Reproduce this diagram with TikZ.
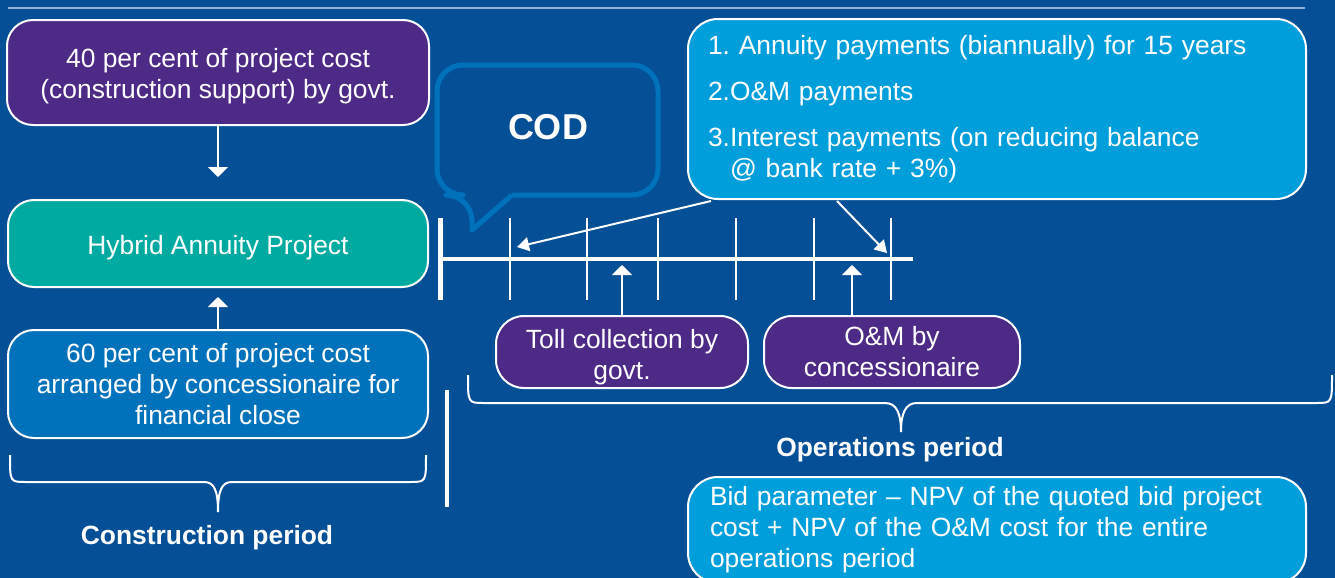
\documentclass[tikz,border=0pt]{standalone}
\usepackage{fontspec}
\setmainfont{Liberation Sans}
\usetikzlibrary{arrows.meta}
\usepackage{xcolor}

\definecolor{bgblue}{RGB}{5,79,151}
\definecolor{hampurple}{RGB}{76,42,133}
\definecolor{hamteal}{RGB}{0,170,160}
\definecolor{midblue}{RGB}{0,114,188}
\definecolor{skyblue}{RGB}{0,158,219}
\definecolor{rulegray}{RGB}{150,175,210}

\tikzset{
    box/.style={draw=white, line width=1pt, rounded corners=13pt, text=white,
        align=center, inner sep=0pt, font=\fontsize{13.2}{15.5}\selectfont},
    listbox/.style={box, fill=skyblue, rounded corners=15pt, align=left},
    flow/.style={white, line width=1pt, -{Triangle[width=10pt,length=5pt]}},
    thinflow/.style={white, line width=1pt, -{Triangle[width=7pt,length=6pt]}},
    tick/.style={white, line width=1pt},
    bracket/.style={white, line width=1pt},
    period/.style={text=white, font=\fontsize{13.2}{15.5}\selectfont\bfseries}
}

\begin{document}
\begin{tikzpicture}[x=0.5pt, y=-0.5pt]
    % Canvas (pixels of the original)
    \useasboundingbox (0,0) rectangle (1335,578);
    \fill[bgblue] (0,0) rectangle (1335,578);
    \draw[rulegray, line width=1pt] (8,8) -- (1305,8); % top rule

    % Left column: funding of the project
    \node[box, fill=hampurple, minimum width=211pt, minimum height=52.5pt] (cost40) at (218,72.5)
        {\rule{0pt}{13.6pt}40 per cent of project cost\\(construction support) by govt.};
    \node[box, fill=hamteal, minimum width=210pt, minimum height=43.5pt] (hybrid) at (218,243.5)
        {\rule{0pt}{13.6pt}Hybrid Annuity Project};
    \node[box, fill=midblue, minimum width=210pt, minimum height=54pt] (cost60) at (218,384)
        {60 per cent of project cost\\arranged by concessionaire for\\financial close};

    \draw[flow] (cost40.south) -- ([yshift=11pt]hybrid.north);
    \draw[flow] (cost60.north) -- ([yshift=-4.5pt]hybrid.south);

    % Construction period bracket
    \draw[bracket] (10,455) .. controls (10,482) .. (26,482) -- (204,482)
        .. controls (214,482) and (218,490) .. (218,512);
    \draw[bracket] (426,455) .. controls (426,482) .. (410,482) -- (232,482)
        .. controls (222,482) and (218,490) .. (218,512);
    \node[period] (conslabel) at (207,538) {Construction period};

    \draw[white, line width=2pt] (447,390) -- (447,507); % end of construction

    % Time line
    \coordinate (tl0) at (440,259);
    \coordinate (tl1) at (913,259);
    \draw[white, line width=2.5pt] (440,218) -- (440,300);
    \draw[white, line width=2pt] (tl0) -- (tl1);
    \foreach \x in {510,587,658,736,814,891}
        \draw[tick] (\x,218) -- (\x,300);

    % COD call-out
    \node[text=white, font=\fontsize{18}{20}\selectfont\bfseries] (cod) at (548,127) {COD};
    \draw[midblue, line width=2.5pt, line join=round, rounded corners=13pt]
        (512,195) -- (658,195) -- (658,65) -- (437,65) -- (437,195) -- (472,195)
        [sharp corners] -- (472,230) -- (512,195);

    % Payments during operations
    \node[listbox, minimum width=309pt, minimum height=90pt, text width=289pt] (annuity) at (997,109)
        {1.\ Annuity payments (biannually) for 15 years\\[7.5pt]
         2.O\&M payments\\[7.5pt]
         3.Interest payments (on reducing balance\\
         \hspace*{11pt}@ bank rate + 3\%)};
    \coordinate (annhit1) at (517,247);
    \coordinate (annhit2) at (887,253);
    \draw[thinflow] ([xshift=12pt,yshift=-0.5pt]annuity.south west) -- (annhit1);
    \draw[thinflow] ([xshift=75pt,yshift=-0.5pt]annuity.south west) -- (annhit2);

    % Toll and O&M
    \node[box, fill=hampurple, rounded corners=14pt, minimum width=126pt, minimum height=36pt] (toll) at (622,352)
        {\rule{0pt}{14.5pt}Toll collection by\\govt.};
    \node[box, fill=hampurple, rounded corners=14pt, minimum width=128pt, minimum height=36pt] (om) at (892,352)
        {O\&M by\\concessionaire};
    \coordinate (tollhit) at (622,265);
    \coordinate (omhit) at (852,265);
    \draw[flow] (toll.north) -- (tollhit);
    \draw[flow] ([xshift=-20pt]om.north) -- (omhit);

    % Operations period bracket
    \draw[bracket] (468,375) .. controls (468,403) .. (484,403) -- (885,403)
        .. controls (897,403) and (901,414) .. (901,432);
    \draw[bracket] (1332,375) .. controls (1332,403) .. (1316,403) -- (917,403)
        .. controls (905,403) and (901,414) .. (901,432);
    \node[period] (opslabel) at (890,450) {Operations period};

    % Bid parameter
    \node[listbox, anchor=north, minimum width=309pt, minimum height=53pt, text width=287pt] (bid) at (997,476)
        {Bid parameter -- NPV of the quoted bid project\\
         cost + NPV of the O\&M cost for the entire\\
         operations period};
\end{tikzpicture}
\end{document}
